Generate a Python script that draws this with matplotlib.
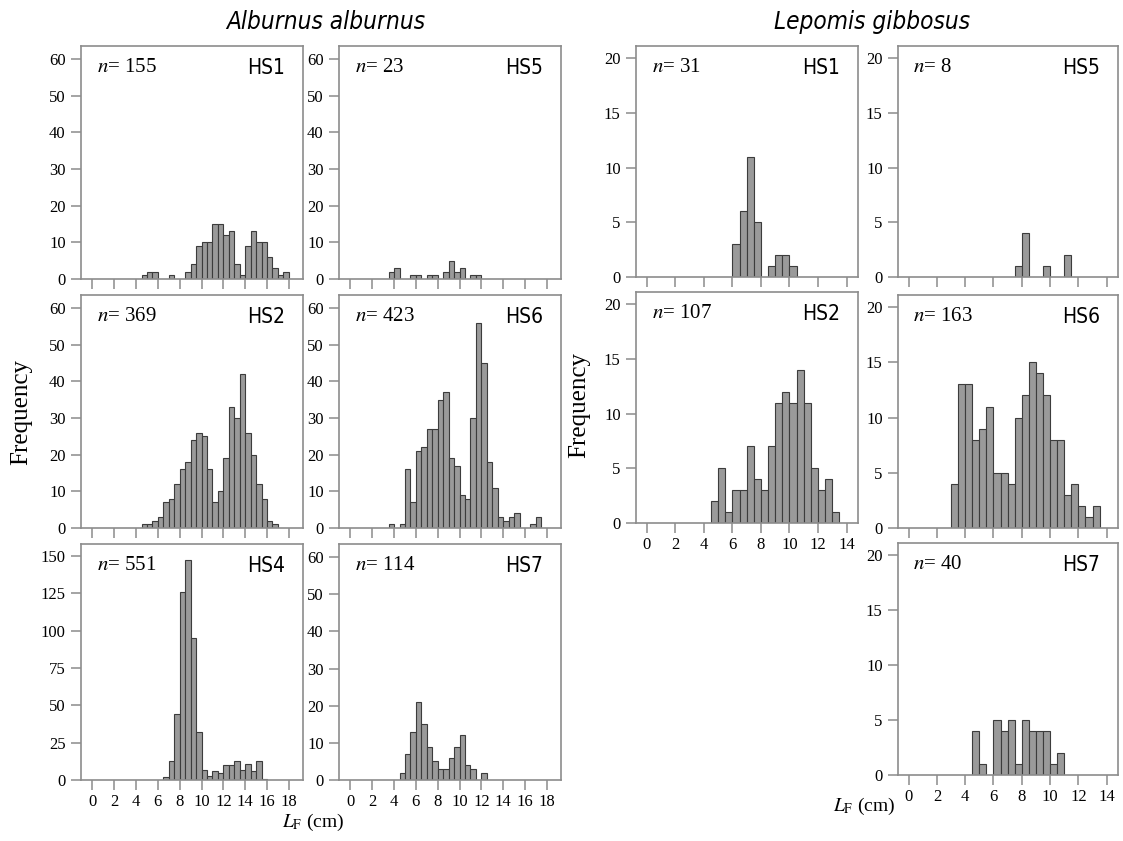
import matplotlib
matplotlib.use("Agg")
import matplotlib.pyplot as plt
from matplotlib import font_manager as fm
from matplotlib.font_manager import FontProperties
import numpy as np

# ---------------- data ----------------
bin_width = 0.5

aa_hs1_start = 4.5
aa_hs1_counts = [1, 2, 2, 0, 0, 1, 0, 0, 2, 4, 9, 10, 10, 15, 15, 12, 13, 4, 1, 9, 13, 10, 10, 6, 3, 1, 2]
aa_hs5_start = 3.5
aa_hs5_counts = [2, 3, 0, 0, 1, 1, 0, 1, 1, 0, 2, 5, 2, 3, 0, 1, 1]
aa_hs2_start = 4.5
aa_hs2_counts = [1, 1, 2, 3, 7, 8, 12, 16, 18, 24, 26, 25, 16, 7, 10, 19, 33, 30, 42, 26, 20, 12, 8, 2, 1]
aa_hs6_start = 3.5
aa_hs6_counts = [1, 0, 1, 16, 7, 21, 22, 27, 27, 35, 37, 19, 17, 9, 8, 30, 56, 45, 18, 11, 3, 2, 3, 4, 0, 0, 1, 3]
aa_hs4_start = 6.5
aa_hs4_counts = [2, 13, 44, 126, 147, 95, 32, 7, 3, 6, 5, 10, 10, 13, 7, 11, 6, 13, 1]
aa_hs7_start = 4.5
aa_hs7_counts = [2, 7, 13, 21, 15, 9, 5, 3, 3, 6, 9, 12, 4, 3, 0, 2]

lg_hs1_start = 6.0
lg_hs1_counts = [3, 6, 11, 5, 0, 1, 2, 2, 1]
lg_hs5_start = 7.5
lg_hs5_counts = [1, 4, 0, 0, 1, 0, 0, 2]
lg_hs2_start = 4.5
lg_hs2_counts = [2, 5, 1, 3, 3, 7, 4, 3, 7, 11, 12, 11, 14, 11, 5, 3, 4, 1]
lg_hs6_start = 3.0
lg_hs6_counts = [4, 13, 13, 8, 9, 11, 5, 5, 4, 10, 12, 15, 14, 12, 8, 8, 3, 4, 2, 1, 2]
lg_hs7_start = 4.5
lg_hs7_counts = [4, 1, 0, 5, 4, 5, 1, 5, 4, 4, 4, 1, 2]

aa_n = {"HS1": 155, "HS5": 23, "HS2": 369, "HS6": 423, "HS4": 551, "HS7": 114}
lg_n = {"HS1": 31, "HS5": 8, "HS2": 107, "HS6": 163, "HS7": 40}

aa_xticks = list(range(0, 19, 2))
lg_xticks = list(range(0, 15, 2))
yticks_60 = [0, 10, 20, 30, 40, 50, 60]
yticks_150 = [0, 25, 50, 75, 100, 125, 150]
yticks_20 = [0, 5, 10, 15, 20]

title_aa = "Alburnus alburnus"
title_lg = "Lepomis gibbosus"
ylabel = "Frequency"
xlabel = r"$L_{\mathrm{F}}$ (cm)"

# ---------------- fonts ----------------
avail = {f.name for f in fm.fontManager.ttflist}
def pick(*names):
    for n in names:
        if n in avail:
            return n
    return "DejaVu Sans"

serif = pick("Liberation Serif", "DejaVu Serif")

def find_narrow(italic):
    keys = ("Narrow", "Condensed", "condensed", "narrow")
    best = None
    for f in fm.fontManager.ttflist:
        nm = f.fname.split("/")[-1]
        cond = any(k in nm for k in keys) or any(k in f.name for k in keys) or \
            str(f.stretch) in ("condensed", "semi-condensed", "extra-condensed")
        if not cond:
            continue
        if "Bold" in nm or "bold" in nm or "Light" in nm or "Thin" in nm or "Black" in nm \
                or "Medium" in nm or "Semi" in nm:
            continue
        is_it = f.style in ("italic", "oblique")
        if is_it != italic:
            continue
        if "Sans" in f.name or "Sans" in nm or "Roboto" in nm:
            return FontProperties(fname=f.fname)
        if best is None:
            best = FontProperties(fname=f.fname)
    return best

nar_reg = find_narrow(False)
nar_it = find_narrow(True)
sans = pick("Liberation Sans", "DejaVu Sans")
if nar_reg is None:
    hs_fp = FontProperties(family=sans, size=13.5)
else:
    hs_fp = nar_reg.copy()
    hs_fp.set_size(15)
if nar_it is None:
    title_fp = FontProperties(family=sans, style="italic", size=15.5)
else:
    title_fp = nar_it.copy()
    title_fp.set_size(17.5)

plt.rcParams["font.family"] = serif
plt.rcParams["mathtext.fontset"] = "stix"

# ---------------- figure ----------------
W, H = 1123, 841
fig = plt.figure(figsize=(W / 100, H / 100), dpi=100)
fig.patch.set_facecolor("white")

frame_col = "#8c8c8c"
bar_face = "#9a9a9a"
bar_edge = "#3c3c3c"

def px_axes(l, t, r, b):
    return fig.add_axes([l / W, 1 - b / H, (r - l) / W, (b - t) / H])

def panel(box, start, counts, label, n, xlim, xticks, ylim, yticks, show_xlabels):
    ax = px_axes(*box)
    counts = np.asarray(counts, dtype=float)
    lefts = start + bin_width * np.arange(len(counts))
    mask = counts > 0
    ax.bar(lefts[mask], counts[mask], width=bin_width, align="edge",
           color=bar_face, edgecolor=bar_edge, linewidth=0.8, zorder=2)
    ax.set_xlim(*xlim)
    ax.set_ylim(*ylim)
    ax.set_xticks(xticks)
    ax.set_yticks(yticks)
    for s in ax.spines.values():
        s.set_color(frame_col)
        s.set_linewidth(1.2)
    ax.tick_params(axis="both", direction="out", length=7, width=1.1,
                   color=frame_col, labelsize=12, labelcolor="black")
    ax.tick_params(axis="y", pad=4)
    ax.tick_params(axis="x", pad=3)
    if not show_xlabels:
        ax.set_xticklabels([])
    ax.text(0.07, 0.95, r"$n$= " + str(n), transform=ax.transAxes,
            ha="left", va="top", fontsize=15, family=serif)
    ax.text(0.92, 0.95, label, transform=ax.transAxes, ha="right", va="top",
            fontproperties=hs_fp)
    return ax

aa_xlim = (-1.05, 19.3)
lg_xlim = (-0.75, 14.8)

aa_c1 = (81, 303)
aa_c2 = (339, 561)
lg_c1 = (636, 858)
lg_c2 = (898, 1118)
r1 = (46, 279)
r2 = (295, 528)
r3 = (544, 780)

ylim60 = (0, 63.5)
ylim150 = (0, 158)
ylim20 = (0, 21.1)

panel((aa_c1[0], r1[0], aa_c1[1], r1[1]), aa_hs1_start, aa_hs1_counts, "HS1", aa_n["HS1"],
      aa_xlim, aa_xticks, ylim60, yticks_60, False)
panel((aa_c2[0], r1[0], aa_c2[1], r1[1]), aa_hs5_start, aa_hs5_counts, "HS5", aa_n["HS5"],
      aa_xlim, aa_xticks, ylim60, yticks_60, False)
panel((aa_c1[0], r2[0], aa_c1[1], r2[1]), aa_hs2_start, aa_hs2_counts, "HS2", aa_n["HS2"],
      aa_xlim, aa_xticks, ylim60, yticks_60, False)
panel((aa_c2[0], r2[0], aa_c2[1], r2[1]), aa_hs6_start, aa_hs6_counts, "HS6", aa_n["HS6"],
      aa_xlim, aa_xticks, ylim60, yticks_60, False)
panel((aa_c1[0], r3[0], aa_c1[1], r3[1]), aa_hs4_start, aa_hs4_counts, "HS4", aa_n["HS4"],
      aa_xlim, aa_xticks, ylim150, yticks_150, True)
panel((aa_c2[0], r3[0], aa_c2[1], r3[1]), aa_hs7_start, aa_hs7_counts, "HS7", aa_n["HS7"],
      aa_xlim, aa_xticks, ylim60, yticks_60, True)

panel((lg_c1[0], r1[0], lg_c1[1], 277), lg_hs1_start, lg_hs1_counts, "HS1", lg_n["HS1"],
      lg_xlim, lg_xticks, ylim20, yticks_20, False)
panel((lg_c2[0], r1[0], lg_c2[1], 277), lg_hs5_start, lg_hs5_counts, "HS5", lg_n["HS5"],
      lg_xlim, lg_xticks, ylim20, yticks_20, False)
panel((lg_c1[0], 292, lg_c1[1], 523), lg_hs2_start, lg_hs2_counts, "HS2", lg_n["HS2"],
      lg_xlim, lg_xticks, ylim20, yticks_20, True)
panel((lg_c2[0], r2[0], lg_c2[1], r2[1]), lg_hs6_start, lg_hs6_counts, "HS6", lg_n["HS6"],
      lg_xlim, lg_xticks, ylim20, yticks_20, False)
panel((lg_c2[0], 543, lg_c2[1], 775), lg_hs7_start, lg_hs7_counts, "HS7", lg_n["HS7"],
      lg_xlim, lg_xticks, ylim20, yticks_20, True)

# titles and axis labels
fig.text(326 / W, 1 - 22 / H, title_aa, ha="center", va="center", fontproperties=title_fp)
fig.text(872 / W, 1 - 22 / H, title_lg, ha="center", va="center", fontproperties=title_fp)
fig.text(21 / W, 1 - 412 / H, ylabel, rotation=90, ha="center", va="center", fontsize=18)
fig.text(579 / W, 1 - 405 / H, ylabel, rotation=90, ha="center", va="center", fontsize=18)
fig.text(313 / W, 1 - 822 / H, xlabel, ha="center", va="center", fontsize=14)
fig.text(864 / W, 1 - 806 / H, xlabel, ha="center", va="center", fontsize=14)

fig.savefig("out.png", dpi=100, facecolor="white")
